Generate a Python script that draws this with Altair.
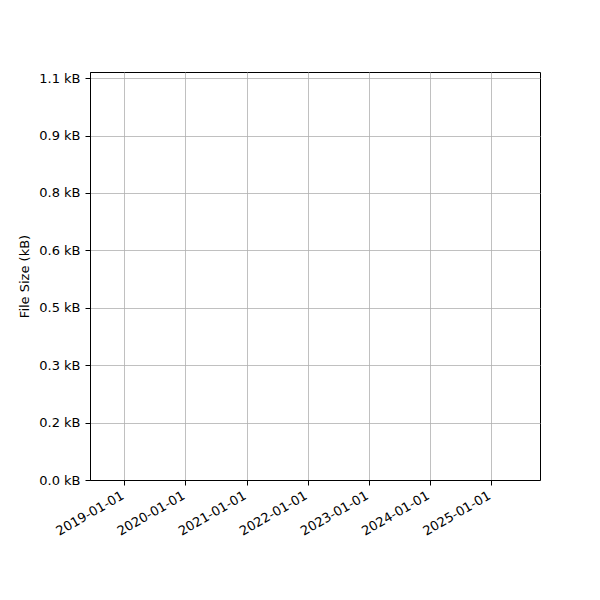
import pandas as pd
import altair as alt

# Axis ranges and ticks (the plot itself holds no records)
x_domain = ["2018-06-10", "2025-10-20"]
x_tick_labels = ["2019-01-01", "2020-01-01", "2021-01-01", "2022-01-01",
                 "2023-01-01", "2024-01-01", "2025-01-01"]
y_domain = [0, 1.066]
y_tick_values = [0, 0.15, 0.3, 0.45, 0.6, 0.75, 0.9, 1.05]
y_tick_labels = ["0.0 kB", "0.2 kB", "0.3 kB", "0.5 kB",
                 "0.6 kB", "0.8 kB", "0.9 kB", "1.1 kB"]


def to_dt(s):
    y, m, d = (int(p) for p in s.split("-"))
    return alt.DateTime(year=y, month=m, date=d, utc=True)


records = pd.DataFrame({"date": pd.Series([], dtype="datetime64[ns]"),
                        "size": pd.Series([], dtype=float)})

y_label_expr = "[" + ",".join(f"'{t}'" for t in y_tick_labels) + "][round(datum.value / 0.15)]"

font = "DejaVu Sans"

chart = alt.Chart(records).mark_line(color="#1f77b4").encode(
    x=alt.X("date:T",
            scale=alt.Scale(type="utc", domain=[to_dt(d) for d in x_domain], nice=False),
            axis=alt.Axis(values=[to_dt(d) for d in x_tick_labels],
                          labelExpr="utcFormat(datum.value, '%Y-%m-%d')",
                          labelAngle=330, labelAlign="right", labelBaseline="top",
                          labelOverlap=False, labelPadding=4, labelOffset=-5,
                          title=None)),
    y=alt.Y("size:Q",
            scale=alt.Scale(domain=y_domain, nice=False, zero=False),
            axis=alt.Axis(values=y_tick_values, labelExpr=y_label_expr,
                          labelOverlap=False, labelPadding=5,
                          title="File Size (kB)", titlePadding=7)),
).properties(
    width=450,
    height=408,
    autosize=alt.AutoSizeParams(type="none"),
    padding={"left": 82, "top": 64, "right": 52, "bottom": 112},
).configure_axis(
    labelFont=font, titleFont=font, labelFontSize=13, titleFontSize=13,
    labelColor="black", titleColor="black", titleFontWeight="normal",
    domainColor="black", domainWidth=1, tickColor="black", tickSize=5,
    tickWidth=1, grid=True, gridColor="#b0b0b0", gridWidth=0.8,
).configure_view(
    stroke="black", strokeWidth=1,
)

chart.save("out.html", embed_options={"renderer": "svg", "actions": False})
